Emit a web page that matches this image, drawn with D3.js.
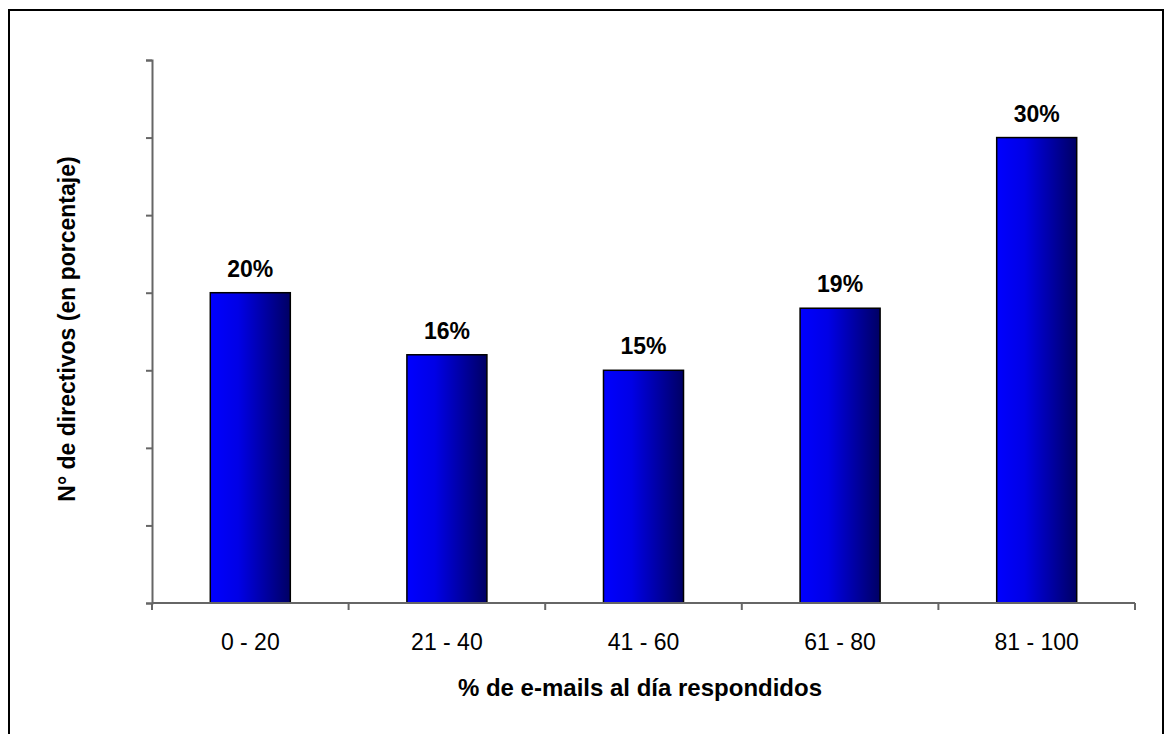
<!DOCTYPE html>
<html>
<head>
<meta charset="utf-8">
<script src="https://cdn.jsdelivr.net/npm/d3@7/dist/d3.min.js"></script>
<style>
  html, body { margin: 0; padding: 0; background: #fff; }
  svg { display: block; font-family: "Liberation Sans", Arial, sans-serif; }
</style>
</head>
<body>
<svg id="chart" width="1166" height="734"></svg>
<script>
// Share of managers by percentage of daily e-mails answered
const categories = ["0 - 20", "21 - 40", "41 - 60", "61 - 80", "81 - 100"];
const values = [20, 16, 15, 19, 30];
const yTicks = [0, 5, 10, 15, 20, 25, 30, 35];
const xTitle = "% de e-mails al día respondidos";
const yTitle = "N° de directivos (en porcentaje)";

const svg = d3.select("#chart");
const W = 1166, H = 734;
const margin = { left: 152, right: 31, top: 60, bottom: 131 };
const plotW = W - margin.left - margin.right;
const plotH = H - margin.top - margin.bottom;

// outer frame
svg.append("rect")
  .attr("x", 9).attr("y", 10)
  .attr("width", 1154).attr("height", 740)
  .attr("fill", "none").attr("stroke", "#000").attr("stroke-width", 2);

const defs = svg.append("defs");
const grad = defs.append("linearGradient")
  .attr("id", "barGrad").attr("x1", "0%").attr("x2", "100%").attr("y1", "0%").attr("y2", "0%");
grad.append("stop").attr("offset", "0%").attr("stop-color", "#0000ff");
grad.append("stop").attr("offset", "35%").attr("stop-color", "#0000e6");
grad.append("stop").attr("offset", "100%").attr("stop-color", "#000064");

const g = svg.append("g").attr("transform", `translate(${margin.left},${margin.top})`);

const x = d3.scaleBand().domain(categories).range([0, plotW]).paddingInner(0.593).paddingOuter(0.2965);
const y = d3.scaleLinear().domain([0, 35]).range([plotH, 0]);

// bars
g.selectAll("rect.bar").data(values).join("rect")
  .attr("class", "bar")
  .attr("x", (d, i) => x(categories[i]))
  .attr("y", d => y(d))
  .attr("width", x.bandwidth())
  .attr("height", d => y(0) - y(d))
  .attr("fill", "url(#barGrad)")
  .attr("stroke", "#000").attr("stroke-width", 1.5);

// value labels
g.selectAll("text.val").data(values).join("text")
  .attr("class", "val")
  .attr("x", (d, i) => x(categories[i]) + x.bandwidth() / 2)
  .attr("y", d => y(d) - 16)
  .attr("text-anchor", "middle")
  .attr("font-size", 23).attr("font-weight", "bold").attr("fill", "#000")
  .text(d => d + "%");

// y axis (ticks only, no labels)
const yAxis = g.append("g")
  .call(d3.axisLeft(y).tickValues(yTicks).tickSize(6).tickFormat(""));
yAxis.select(".domain").attr("stroke", "#666").attr("stroke-width", 2);
yAxis.selectAll(".tick line").attr("stroke", "#666").attr("stroke-width", 2);

// x axis: ticks sit between categories
const xEdges = d3.range(categories.length + 1).map(i => i * plotW / categories.length);
const xAxisG = g.append("g").attr("transform", `translate(0,${plotH})`);
xAxisG.append("line")
  .attr("x1", 0).attr("x2", plotW).attr("y1", 0).attr("y2", 0)
  .attr("stroke", "#666").attr("stroke-width", 2);
xAxisG.selectAll("line.tk").data(xEdges).join("line")
  .attr("class", "tk")
  .attr("x1", d => d).attr("x2", d => d).attr("y1", 0).attr("y2", 7)
  .attr("stroke", "#666").attr("stroke-width", 2);
xAxisG.selectAll("text.cat").data(categories).join("text")
  .attr("class", "cat")
  .attr("x", d => x(d) + x.bandwidth() / 2)
  .attr("y", 47)
  .attr("text-anchor", "middle")
  .attr("font-size", 23).attr("fill", "#000")
  .text(d => d);

// axis titles
svg.append("text")
  .attr("x", 640).attr("y", 696)
  .attr("text-anchor", "middle")
  .attr("font-size", 24).attr("font-weight", "bold")
  .text(xTitle);

svg.append("text")
  .attr("transform", `translate(75,329) rotate(-90)`)
  .attr("text-anchor", "middle")
  .attr("font-size", 23).attr("font-weight", "bold")
  .text(yTitle);
</script>
</body>
</html>
